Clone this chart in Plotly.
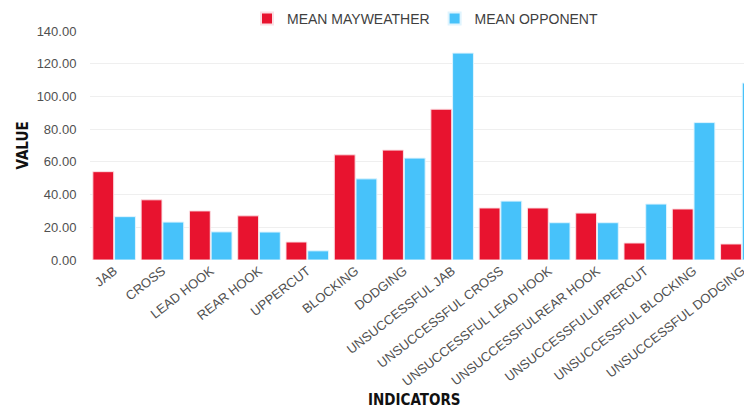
import plotly.graph_objects as go

categories = ["JAB", "CROSS", "LEAD HOOK", "REAR HOOK", "UPPERCUT", "BLOCKING", "DODGING",
              "UNSUCCESSFUL JAB", "UNSUCCESSFUL CROSS", "UNSUCCESSFUL LEAD HOOK",
              "UNSUCCESSFULREAR HOOK", "UNSUCCESSFULUPPERCUT", "UNSUCCESSFUL BLOCKING",
              "UNSUCCESSFUL DODGING"]
mean_mayweather = [54, 36.8, 30, 27, 11, 64.3, 67.2, 92.2, 31.8, 31.8, 28.7, 10.4, 31.2, 9.8]
mean_opponent = [26.5, 23.2, 17.2, 17.1, 5.6, 49.6, 62.3, 126.5, 36, 22.8, 22.8, 34.2, 84, 108.2]
y_ticks = [0, 20, 40, 60, 80, 100, 120, 140]

RED = "#E8132F"
BLUE = "#47C2FA"

fig = go.Figure()
fig.add_trace(go.Bar(x=categories, y=mean_mayweather, name="MEAN MAYWEATHER",
                     marker=dict(color=RED, line=dict(color="#fbe0e4", width=1))))
fig.add_trace(go.Bar(x=categories, y=mean_opponent, name="MEAN OPPONENT",
                     marker=dict(color=BLUE, line=dict(color="#dff4fe", width=1))))

# the page body has an 8px default margin, so the figure starts at (8, 8)
OFF = 8
W, H = 752 - OFF, 410 - OFF
L, R, T, B = 90 - OFF, 0, 31 - OFF, 150
pw = W - L - R
ph = H - T - B

def px_x(x):
    return (x - OFF - L) / pw

def px_y(y):
    return 1 - (y - OFF - T) / ph

fig.update_layout(
    width=W, height=H,
    margin=dict(l=L, r=R, t=T, b=B, autoexpand=False),
    paper_bgcolor="white", plot_bgcolor="white",
    barmode="group", bargap=0.1, bargroupgap=0.04,
    font=dict(family="Liberation Sans, Arial, sans-serif", color="#555555"),
    legend=dict(orientation="h", x=px_x(425), xanchor="center",
                y=px_y(19), yanchor="middle",
                font=dict(size=14, color="#3f3f3f"), itemsizing="constant",
                bgcolor="rgba(0,0,0,0)"),
    xaxis=dict(range=[-0.5, 13.21], tickangle=-38, tickfont=dict(size=13, color="#505050"),
               showgrid=False, showline=False, ticks="", automargin=False),
    yaxis=dict(range=[0, 140], tickvals=y_ticks, tickformat=".2f",
               tickfont=dict(size=13, color="#505050"), gridcolor="#efefef",
               zeroline=False, showline=False, ticks="outside", ticklen=10,
               tickcolor="rgba(0,0,0,0)", automargin=False),
    annotations=[
        dict(text="<b>VALUE</b>", xref="paper", yref="paper",
             x=px_x(22), y=0.5, textangle=-90, showarrow=False,
             xanchor="center", yanchor="middle",
             font=dict(family="Liberation Sans Narrow, DejaVu Sans Condensed, sans-serif",
                       size=15, color="#111111")),
        dict(text="<b>INDICATORS</b>", xref="paper", yref="paper",
             x=px_x(414), y=px_y(400), showarrow=False,
             xanchor="center", yanchor="middle",
             font=dict(family="Liberation Sans Narrow, DejaVu Sans Condensed, sans-serif",
                       size=15, color="#111111")),
    ],
)

fig.write_html("out.html")
